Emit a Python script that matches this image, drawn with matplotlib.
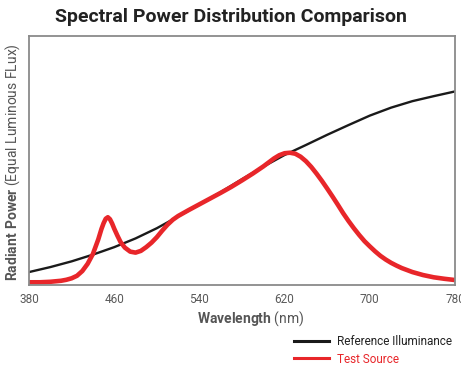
import numpy as np
import matplotlib.pyplot as plt
import matplotlib

matplotlib.rc('font', family=['Roboto', 'DejaVu Sans'])
matplotlib.rc('mathtext', fontset='custom', rm='Roboto', bf='Roboto:bold')

# Reference illuminance (black)
ref_wl = [380, 400, 420, 440, 460, 480, 500, 520, 540, 560, 580,
          600, 620, 640, 660, 680, 700, 720, 740, 760, 780]
ref_val = [0.052, 0.072, 0.095, 0.122, 0.152, 0.187, 0.228, 0.275, 0.323,
           0.373, 0.425, 0.475, 0.522, 0.562, 0.603, 0.642, 0.680, 0.712,
           0.738, 0.758, 0.777]

# Test source (red)
test_wl = [380, 390, 400, 405, 410, 415, 420, 425, 430, 435, 440, 445, 448,
           450, 452, 454, 456, 458, 460, 463, 466, 470, 475, 480, 485, 490,
           495, 500, 505, 510, 515, 520, 525, 530, 540, 550, 560, 570, 580,
           590, 600, 605, 610, 615, 620, 625, 630, 635, 640, 645, 650, 655,
           660, 665, 670, 675, 680, 685, 690, 695, 700, 705, 710, 715, 720,
           725, 730, 740, 750, 760, 770, 780]
test_val = [0.011, 0.011, 0.013, 0.015, 0.017, 0.021, 0.027, 0.037, 0.056,
            0.085, 0.125, 0.183, 0.225, 0.248, 0.266, 0.272, 0.264, 0.247,
            0.226, 0.198, 0.172, 0.150, 0.134, 0.130, 0.137, 0.152, 0.170,
            0.192, 0.218, 0.242, 0.262, 0.277, 0.289, 0.301, 0.324, 0.347,
            0.370, 0.394, 0.420, 0.447, 0.476, 0.492, 0.508, 0.521, 0.529,
            0.531, 0.527, 0.515, 0.497, 0.474, 0.447, 0.418, 0.387, 0.355,
            0.322, 0.288, 0.257, 0.228, 0.201, 0.176, 0.155, 0.135, 0.117,
            0.102, 0.089, 0.078, 0.068, 0.052, 0.040, 0.031, 0.025, 0.020]

xticks = [380, 460, 540, 620, 700, 780]

fig = plt.figure(figsize=(4.61, 3.68), dpi=100)
ax = fig.add_axes([0.063, 0.2255, 0.924, 0.677])

ax.plot(ref_wl, ref_val, color='#1a1a1a', linewidth=1.7,
        label='Reference Illuminance')
ax.plot(test_wl, test_val, color='#e8262a', linewidth=3.3,
        label='Test Source', solid_joinstyle='round')

ax.set_xlim(380, 780)
ax.set_ylim(0, 1)
ax.set_xticks(xticks)
ax.set_yticks([])
ax.tick_params(axis='x', length=0, pad=6, labelsize=8.5, labelcolor='#5a5a5a')
for s in ax.spines.values():
    s.set_color('#8a8a8a')
    s.set_linewidth(1.3)

fig.text(0.5, 0.953, 'Spectral Power Distribution Comparison', ha='center',
         va='center', fontsize=14, fontweight='bold', color='#222222')
fig.text(0.543, 0.133, r'$\bf{Wavelength}$ (nm)', ha='center', va='center',
         fontsize=10, color='#555555')
fig.text(0.027, 0.56, r'$\bf{Radiant\ Power}$ (Equal Luminous FLux)',
         ha='center', va='center', rotation=90, fontsize=10, color='#555555')

leg = fig.legend(loc='upper left', bbox_to_anchor=(0.625, 0.106), frameon=False,
                 fontsize=8.5, handlelength=3.0, handletextpad=0.6,
                 labelspacing=0.4, borderpad=0, labelcolor=['#222222', '#e8262a'])
for ln in leg.get_lines():
    ln.set_linewidth(2.2)

plt.savefig('out.png', dpi=100)
